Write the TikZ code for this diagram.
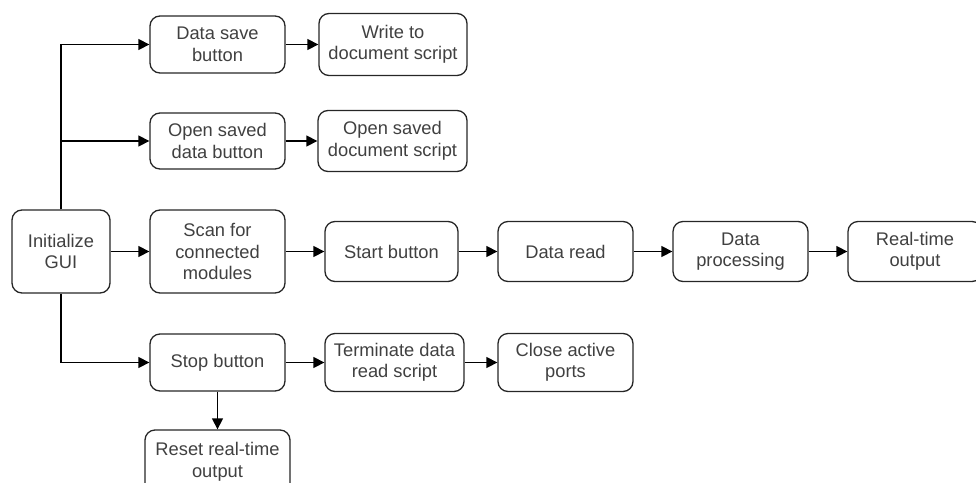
\documentclass[tikz,border=0pt]{standalone}
\usepackage{fontspec}
\setmainfont{Liberation Sans}
\usetikzlibrary{arrows.meta}
\begin{document}
\begin{tikzpicture}[x=1pt,y=-1pt,
  box/.style={draw=black!85, line width=1.3pt, rounded corners=10pt, align=center,
    text=black!75, font=\fontsize{18.3}{21.5}\selectfont, inner sep=0pt},
  arr/.style={line width=1.3pt, draw=black, -{Triangle[length=11pt,width=11pt]}}]
\useasboundingbox (0,0) rectangle (976,482);

% nodes
\node[box, minimum width=98pt,  minimum height=83pt] (init)    at (61,251.5)  {Initialize\\GUI};
\node[box, minimum width=135pt, minimum height=57pt] (save)    at (217.5,44.5) {Data save\\button};
\node[box, minimum width=148pt, minimum height=62pt] (write)   at (393,44.5)   {Write to\\document script};
\node[box, minimum width=135pt, minimum height=56pt] (open)    at (217.5,141)  {Open saved\\data button};
\node[box, minimum width=149pt, minimum height=61pt] (opendoc) at (392.5,141)  {Open saved\\document script};
\node[box, minimum width=135pt, minimum height=83pt] (scan)    at (217.5,251.5){Scan for\\connected\\modules};
\node[box, minimum width=133pt, minimum height=60pt] (start)   at (391.5,251.5){Start button};
\node[box, minimum width=135pt, minimum height=60pt] (read)    at (565.5,251.5){Data read};
\node[box, minimum width=135pt, minimum height=60pt] (proc)    at (740.5,251.5){Data\\processing};
\node[box, minimum width=134pt, minimum height=60pt] (rt)      at (915,251.5)  {Real-time\\output};
\node[box, minimum width=135pt, minimum height=57pt] (stop)    at (217.5,362.5){Stop button};
\node[box, minimum width=139pt, minimum height=58pt] (term)    at (394.5,362.5){Terminate data\\read script};
\node[box, minimum width=135pt, minimum height=58pt] (close)   at (565.5,362.5){Close active\\ports};
\node[box, minimum width=145pt, minimum height=64pt] (reset)   at (217.5,462)  {Reset real-time\\output};

% connectors
\draw[arr] (init.north) |- (save.west);
\draw[arr] (init.north) |- (open.west);
\draw[arr] (init.south) |- (stop.west);
\draw[arr] (init) -- (scan);
\draw[arr] (save) -- (write);
\draw[arr] (open) -- (opendoc);
\draw[arr] (scan) -- (start);
\draw[arr] (start) -- (read);
\draw[arr] (read) -- (proc);
\draw[arr] (proc) -- (rt);
\draw[arr] (stop) -- (term);
\draw[arr] (term) -- (close);
\draw[arr] (stop) -- (reset);
\end{tikzpicture}
\end{document}
